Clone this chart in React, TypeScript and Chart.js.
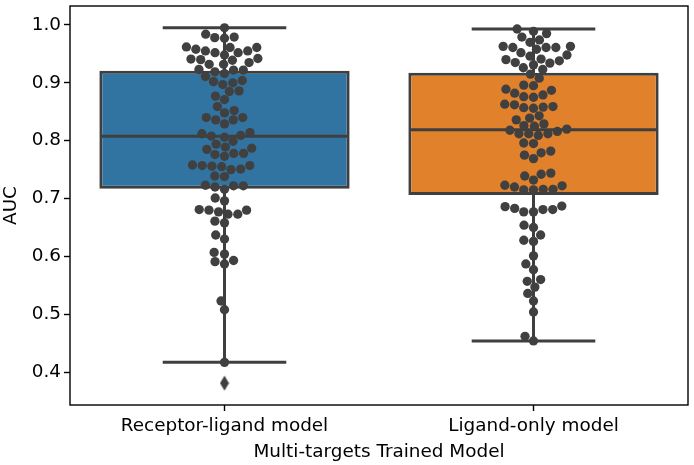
import { useEffect, useRef } from 'react';
import { Chart, registerables } from 'chart.js';

Chart.register(...registerables);

// ---- data ----
const categories = ['Receptor-ligand model', 'Ligand-only model'];

const receptorLigandAUC = [
  0.995, 0.979, 0.977, 0.978, 0.984, 0.961, 0.962, 0.952, 0.952, 0.948,
  0.955, 0.958, 0.955, 0.961, 0.932, 0.941, 0.935, 0.932, 0.939, 0.940,
  0.942, 0.922, 0.919, 0.916, 0.922, 0.923, 0.904, 0.902, 0.897, 0.900,
  0.911, 0.885, 0.886, 0.877, 0.871, 0.859, 0.852, 0.848, 0.840, 0.836,
  0.829, 0.836, 0.840, 0.812, 0.809, 0.799, 0.806, 0.808, 0.814, 0.787,
  0.785, 0.776, 0.789, 0.773, 0.794, 0.778, 0.778, 0.758, 0.757, 0.751,
  0.755, 0.750, 0.756, 0.757, 0.738, 0.739, 0.723, 0.720, 0.716, 0.722,
  0.722, 0.701, 0.696, 0.680, 0.677, 0.673, 0.673, 0.680, 0.681, 0.661,
  0.658, 0.637, 0.630, 0.607, 0.604, 0.591, 0.587, 0.593, 0.523, 0.508,
  0.417,
];

const ligandOnlyAUC = [
  0.989, 0.985, 0.993, 0.979, 0.974, 0.970, 0.963, 0.961, 0.958, 0.952,
  0.961, 0.961, 0.963, 0.948, 0.938, 0.931, 0.940, 0.934, 0.946, 0.935,
  0.941, 0.923, 0.915, 0.926, 0.908, 0.895, 0.896, 0.887, 0.889, 0.882,
  0.876, 0.875, 0.879, 0.863, 0.859, 0.857, 0.856, 0.858, 0.862, 0.839,
  0.843, 0.836, 0.829, 0.825, 0.826, 0.818, 0.812, 0.812, 0.809, 0.812,
  0.816, 0.820, 0.795, 0.796, 0.775, 0.769, 0.779, 0.782, 0.744, 0.742,
  0.732, 0.739, 0.722, 0.716, 0.715, 0.715, 0.716, 0.720, 0.723, 0.686,
  0.683, 0.677, 0.677, 0.681, 0.681, 0.687, 0.650, 0.654, 0.637, 0.628,
  0.626, 0.601, 0.587, 0.577, 0.557, 0.560, 0.547, 0.536, 0.523, 0.504,
  0.462, 0.454,
];

const boxQ1 = [0.717, 0.706];
const boxMedian = [0.8075, 0.819];
const boxQ3 = [0.921, 0.9175];
const whiskerLow = [0.417, 0.454];
const whiskerHigh = [0.995, 0.993];
const outlierValues = [[0.381], []];

const yTicks = [0.4, 0.5, 0.6, 0.7, 0.8, 0.9, 1.0];
const Y_MIN = 0.3433;
const Y_MAX = 1.0327;

// ---- styles ----
const boxColors = ['#3274a1', '#e1812c'];
const EDGE = '#3f3f3f';
const DOT_COLOR = '#404040';
const DOT_D = 9.3;
const FONT = 'DejaVu Sans';
const FONT_SIZE = 18.4;

function beeswarm(py: number[], cx: number, d: number): number[] {
  const order = py.map((_, i) => i).sort((a, b) => py[b] - py[a]);
  const placed: { x: number; y: number }[] = [];
  const out = new Array(py.length).fill(cx);
  for (const i of order) {
    const y = py[i];
    const neighbors: { x: number; y: number }[] = [];
    for (let k = placed.length - 1; k >= 0; k--) {
      if (Math.abs(placed[k].y - y) < d) neighbors.push(placed[k]);
    }
    const cands: number[] = [cx];
    let leftFirst = true;
    for (const n of neighbors) {
      const dy = y - n.y;
      const dx = Math.sqrt(Math.max(d * d - dy * dy, 0)) * 1.05;
      if (leftFirst) cands.push(n.x - dx, n.x + dx);
      else cands.push(n.x + dx, n.x - dx);
      leftFirst = !leftFirst;
    }
    const sorted = cands
      .map((x, k) => ({ x, k }))
      .sort((a, b) => Math.abs(a.x - cx) - Math.abs(b.x - cx) || a.k - b.k);
    let chosen = cx;
    for (const c of sorted) {
      if (neighbors.every((n) => (c.x - n.x) ** 2 + (y - n.y) ** 2 >= d * d - 1e-6)) {
        chosen = c.x;
        break;
      }
    }
    placed.push({ x: chosen, y });
    out[i] = chosen;
  }
  return out;
}

function makeDiamond(): HTMLCanvasElement {
  const c = document.createElement('canvas');
  c.width = 10;
  c.height = 16;
  const g = c.getContext('2d')!;
  g.fillStyle = EDGE;
  g.beginPath();
  g.moveTo(5, 0.5);
  g.lineTo(9.5, 8);
  g.lineTo(5, 15.5);
  g.lineTo(0.5, 8);
  g.closePath();
  g.fill();
  return c;
}

const framePlugin = {
  id: 'frame',
  afterDraw(chart: any) {
    const { ctx, chartArea } = chart;
    const { left, top, right, bottom } = chartArea;
    ctx.save();
    ctx.strokeStyle = '#000';
    ctx.lineWidth = 1.4;
    ctx.strokeRect(left, top, right - left, bottom - top);
    ctx.restore();
  },
};

export default function App() {
  const ref = useRef<HTMLCanvasElement>(null);

  useEffect(() => {
    const canvas = ref.current!;
    const groups = [receptorLigandAUC, ligandOnlyAUC];

    const seg = (pts: { x: number; y: number }[], order: number) => ({
      type: 'line',
      data: pts,
      borderColor: EDGE,
      borderWidth: 3,
      borderCapStyle: 'butt',
      pointRadius: 0,
      pointHoverRadius: 0,
      fill: false,
      tension: 0,
      order,
    });

    const datasets: any[] = [];
    groups.forEach((vals, gi) => {
      datasets.push({
        type: 'scatter',
        data: vals.map((v) => ({ x: gi, y: v })),
        pointRadius: DOT_D / 2,
        pointHoverRadius: DOT_D / 2,
        pointBackgroundColor: DOT_COLOR,
        pointBorderWidth: 0,
        borderWidth: 0,
        order: 0,
      });
    });
    const diamond = makeDiamond();
    categories.forEach((_, gi) => {
      datasets.push({
        type: 'scatter',
        data: outlierValues[gi].map((v) => ({ x: gi, y: v })),
        pointStyle: diamond,
        pointRadius: 5,
        pointHoverRadius: 5,
        order: 1,
      });
      datasets.push(seg([{ x: gi - 0.4, y: boxMedian[gi] }, { x: gi + 0.4, y: boxMedian[gi] }], 2));
      datasets.push(seg([{ x: gi, y: boxQ3[gi] }, { x: gi, y: whiskerHigh[gi] }], 5));
      datasets.push(seg([{ x: gi, y: boxQ1[gi] }, { x: gi, y: whiskerLow[gi] }], 5));
      datasets.push(seg([{ x: gi - 0.2, y: whiskerHigh[gi] }, { x: gi + 0.2, y: whiskerHigh[gi] }], 5));
      datasets.push(seg([{ x: gi - 0.2, y: whiskerLow[gi] }, { x: gi + 0.2, y: whiskerLow[gi] }], 5));
    });
    datasets.push({
      type: 'bar',
      data: categories.map((_, i) => ({ x: i, y: [boxQ1[i], boxQ3[i]] })),
      backgroundColor: boxColors,
      borderColor: EDGE,
      borderWidth: 3,
      borderSkipped: false,
      barPercentage: 0.81,
      categoryPercentage: 1,
      order: 4,
    });

    const tickFont = { family: FONT, size: FONT_SIZE };

    const chart = new Chart(canvas, {
      type: 'bar',
      data: { datasets },
      plugins: [framePlugin],
      options: {
        responsive: false,
        animation: false,
        events: [],
        layout: { padding: { top: 4, right: 4, bottom: 0, left: 0 } },
        plugins: { legend: { display: false }, tooltip: { enabled: false } },
        scales: {
          x: {
            type: 'linear',
            min: -0.5,
            max: 1.5,
            offset: false,
            grid: { display: true, drawOnChartArea: false, offset: false, tickLength: 6, tickColor: '#000', tickWidth: 1.4 },
            border: { display: false },
            ticks: {
              color: '#000',
              font: tickFont,
              padding: 4,
              maxRotation: 0,
              callback: (_v: any, i: number) => categories[i] ?? '',
            },
            afterBuildTicks: (s: any) => {
              s.ticks = categories.map((_, i) => ({ value: i }));
            },
            afterFit: (s: any) => {
              s.height = 60;
              s.paddingLeft = 0;
              s.paddingRight = 0;
              s.paddingTop = 0;
              s.paddingBottom = 0;
            },
            title: {
              display: true,
              text: 'Multi-targets Trained Model',
              color: '#000',
              font: { family: FONT, size: FONT_SIZE, lineHeight: 1.2 },
              padding: { top: 0, bottom: 2 },
            },
          } as any,
          y: {
            type: 'linear',
            min: Y_MIN,
            max: Y_MAX,
            beginAtZero: false,
            grid: { display: true, drawOnChartArea: false, tickLength: 6, tickColor: '#000', tickWidth: 1.4 },
            border: { display: false },
            ticks: {
              color: '#000',
              font: tickFont,
              padding: 3,
              callback: (v: any) => Number(v).toFixed(1),
            },
            afterBuildTicks: (s: any) => {
              s.ticks = yTicks.map((v) => ({ value: v }));
            },
            afterFit: (s: any) => {
              s.width = 70;
              s.paddingLeft = 0;
              s.paddingRight = 0;
              s.paddingTop = 0;
              s.paddingBottom = 0;
            },
            title: {
              display: true,
              text: 'AUC',
              color: '#000',
              font: { family: FONT, size: FONT_SIZE, lineHeight: 1.2 },
              padding: { top: 0, bottom: 0 },
            },
          } as any,
        },
      } as any,
    });

    const xs: any = chart.scales.x;
    const ys: any = chart.scales.y;
    groups.forEach((vals, gi) => {
      const cx = xs.getPixelForValue(gi);
      const py = vals.map((v) => ys.getPixelForValue(v));
      const px = beeswarm(py, cx, DOT_D);
      chart.data.datasets[gi].data = vals.map((v, i) => ({ x: xs.getValueForPixel(px[i]), y: v })) as any;
    });
    chart.update();

    return () => chart.destroy();
  }, []);

  return (
    <div style={{ position: 'fixed', left: 0, top: 0, width: 694, height: 465, background: '#fff' }}>
      <canvas ref={ref} width={694} height={465} style={{ display: 'block' }} />
    </div>
  );
}
